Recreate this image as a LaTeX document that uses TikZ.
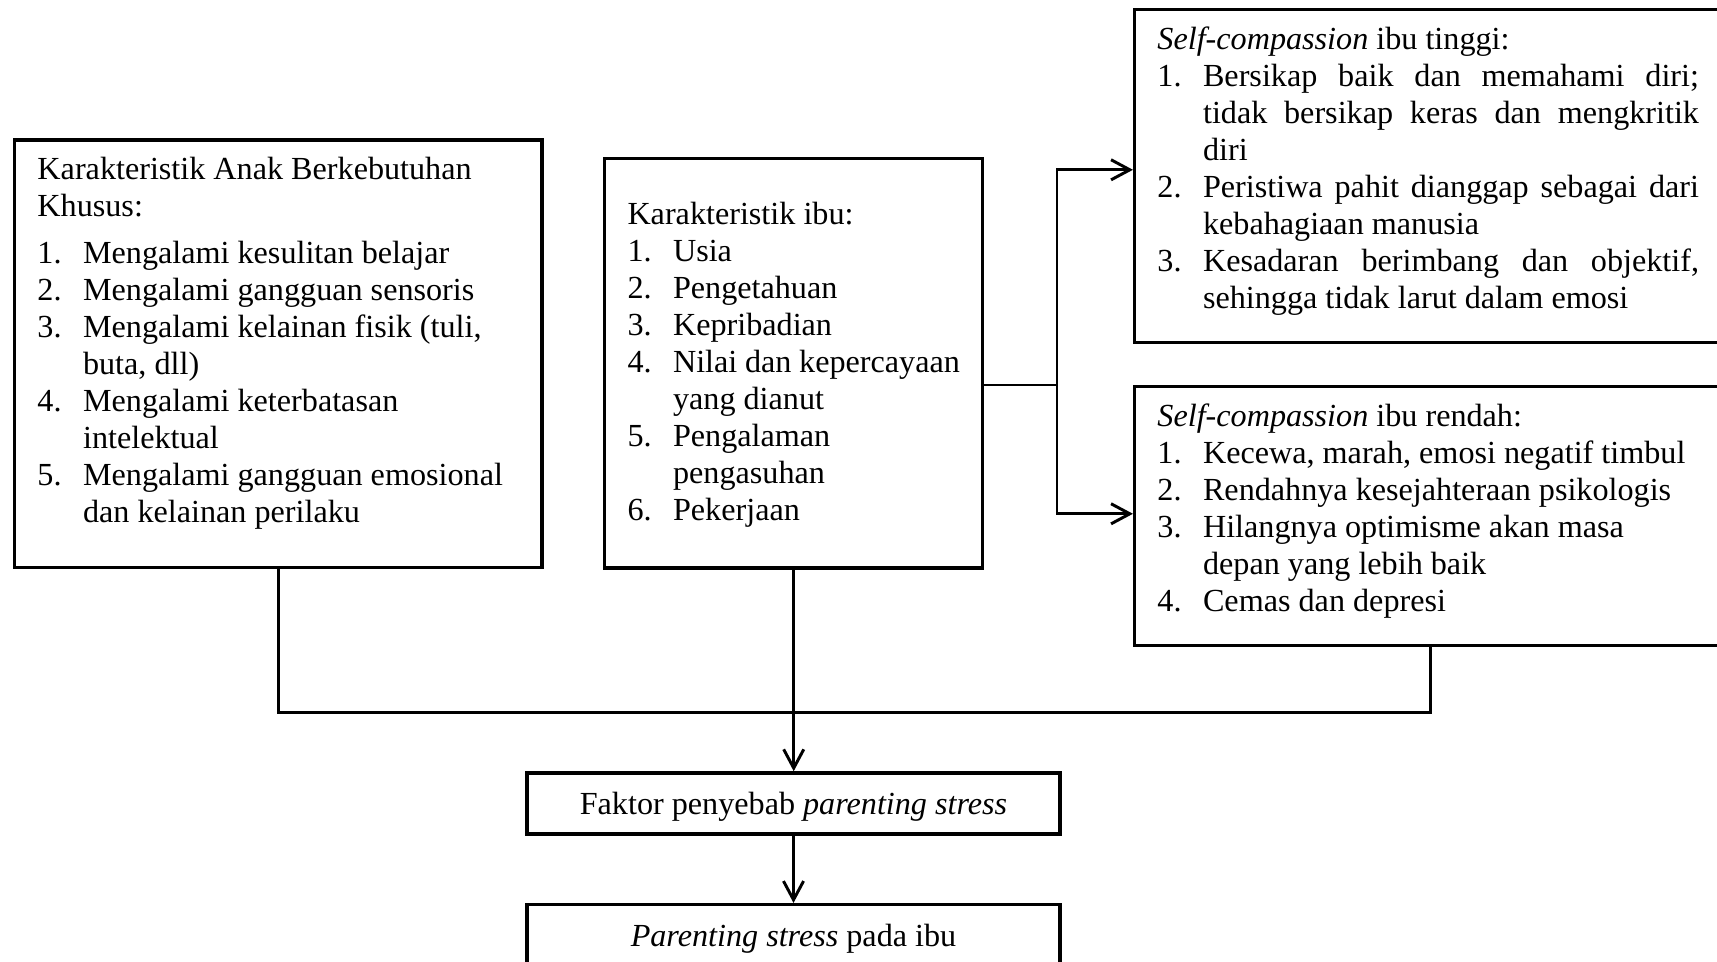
\documentclass[tikz,border=0pt]{standalone}
\usepackage{fontspec}
\setmainfont{Liberation Serif}
\usetikzlibrary{arrows.meta,positioning}

\newcommand{\itm}[2]{\par\noindent\hangindent=17pt\hangafter=1\makebox[17pt][l]{#1}#2}
\newcommand{\boxbody}[4][9.66pt]{\parbox[t][#2][t]{#3}{\fontsize{12}{13.8}\selectfont\noindent\rule{0pt}{#1}#4}}

\begin{document}
\begin{tikzpicture}
[>={Straight Barb[length=7pt,width=7.5pt]}, semithick,
infobox/.style={draw, line width=1.3pt, anchor=north west, inner xsep=8.5pt, inner ysep=5.3pt},
outbox/.style={draw, line width=1.3pt, minimum width=198.8pt, font=\fontsize{12}{13.8}\selectfont},
link/.style={line width=1.1pt}
]
  \useasboundingbox (0,0) rectangle (22.51,-12.61);

  \node[infobox] (abk) at (0.17,-1.81) {\boxbody{149pt}{179.6pt}{\raggedright
    Karakteristik Anak Berkebutuhan\\Khusus:\par\vspace{3.7pt}
    \itm{1.}{Mengalami kesulitan belajar}
    \itm{2.}{Mengalami gangguan sensoris}
    \itm{3.}{Mengalami kelainan fisik (tuli,\newline buta, dll)}
    \itm{4.}{Mengalami keterbatasan\newline intelektual}
    \itm{5.}{Mengalami gangguan emosional\newline dan kelainan perilaku}}};
  \node[infobox] (ibu) at (7.905,-2.058) {\boxbody[19.3pt]{142pt}{124pt}{\raggedright
    Karakteristik ibu:
    \itm{1.}{Usia}
    \itm{2.}{Pengetahuan}
    \itm{3.}{Kepribadian}
    \itm{4.}{Nilai dan kepercayaan\newline yang dianut}
    \itm{5.}{Pengalaman\newline pengasuhan}
    \itm{6.}{Pekerjaan}}};
  \node[infobox] (tinggi) at (14.853,-0.105) {\boxbody{113.6pt}{202pt}{%
    \textit{Self-compassion} ibu tinggi:
    \itm{1.}{Bersikap baik dan memahami diri;\linebreak tidak bersikap keras dan mengkritik\linebreak diri}
    \itm{2.}{Peristiwa pahit dianggap sebagai dari\linebreak kebahagiaan manusia}
    \itm{3.}{Kesadaran berimbang dan objektif,\linebreak sehingga tidak larut dalam emosi}}\hspace*{2pt}};
  \node[infobox] (rendah) at (14.853,-5.047) {\boxbody{86pt}{202pt}{\raggedright
    \textit{Self-compassion} ibu rendah:
    \itm{1.}{Kecewa, marah, emosi negatif timbul}
    \itm{2.}{Rendahnya kesejahteraan psikologis}
    \itm{3.}{Hilangnya optimisme akan masa\newline depan yang lebih baik}
    \itm{4.}{Cemas dan depresi}}\hspace*{2pt}};

  \node[outbox, minimum height=22.8pt, text height=11pt, text depth=2.6pt] (faktor) at (10.403,-10.534) {Faktor penyebab \textit{parenting stress}};
  \node[outbox, minimum height=25.4pt, below=0.88cm of faktor] (stres) {\textit{Parenting stress} pada ibu};

  \coordinate (split) at (13.857,-5.047);
  \coordinate (bus) at (10.38,-9.347);

  \draw[link] (ibu.east |- split) -- (split);
  \draw[link,->] (split) |- ([yshift=2.4pt]tinggi.west);
  \draw[link,->] (split) |- ([yshift=0.9pt]rendah.west);
  \draw[link] (abk.south) |- (bus) -| (rendah.south);
  \draw[link,->] (ibu.south) -- (ibu.south |- faktor.north);
  \draw[link,->] (faktor) -- (stres);
\end{tikzpicture}
\end{document}
